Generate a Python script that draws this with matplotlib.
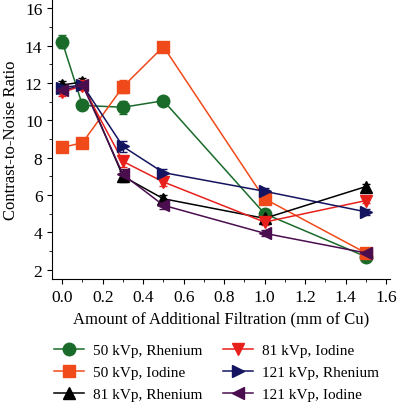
import numpy as np
import matplotlib.pyplot as plt
from matplotlib.lines import Line2D

plt.rcParams['font.family'] = ['Liberation Serif', 'DejaVu Serif']

filtration = [0.0, 0.1, 0.3, 0.5, 1.0, 1.5]

re50 = [14.2, 10.8, 10.7, 11.05, 5.0, 2.7]
io50 = [8.55, 8.8, 11.8, 13.95, 5.8, 2.9]
re81 = [11.9, 12.05, 7.0, 5.8, 4.75, 6.45]
io81 = [11.5, 11.85, 7.8, 6.7, 4.55, 5.7]
re121 = [11.75, 11.9, 8.6, 7.2, 6.2, 5.1]
io121 = [11.6, 11.9, 7.1, 5.45, 3.95, 2.9]

err50re = [0.35, 0.15, 0.35, 0.15, 0.15, 0.15]
err50io = [0.25, 0.15, 0.35, 0.15, 0.2, 0.15]
err_other = [0.2, 0.2, 0.3, 0.2, 0.15, 0.15]

labels = ['50 kVp, Rhenium', '50 kVp, Iodine', '81 kVp, Rhenium',
          '81 kVp, Iodine', '121 kVp, Rhenium', '121 kVp, Iodine']
colors = ['#1a6b2a', '#f04a1a', '#000000', '#e8201c', '#141460', '#4a0e4e']
markers = ['o', 's', '^', 'v', '>', '<']

series = [re50, io50, re81, io81, re121, io121]
errs = [err50re, err50io, err_other, err_other, err_other, err_other]

fig = plt.figure(figsize=(3.98, 4.10), dpi=100)
ax = fig.add_axes([0.131, 0.317, 0.849, 0.683])

handles = []
for y, e, c, m, lab in zip(series, errs, colors, markers, labels):
    ax.errorbar(filtration, y, yerr=e, color=c, marker=m, ms=9, lw=1.1,
                capsize=3, elinewidth=1)
    handles.append(Line2D([], [], color=c, marker=m, ms=9, lw=1.1, label=lab))

ax.set_xlim(-0.05, 1.62)
ax.set_ylim(1.5, 16.5)
ax.set_xticks(np.arange(0, 1.61, 0.2))
ax.set_xticks(np.arange(0, 1.61, 0.1), minor=True)
ax.set_yticks(np.arange(2, 17, 2))
ax.set_yticks(np.arange(2, 17, 1), minor=True)
ax.spines['top'].set_visible(False)
ax.spines['right'].set_visible(False)
ax.tick_params(direction='out', labelsize=12.5)
ax.set_xlabel('Amount of Additional Filtration (mm of Cu)', fontsize=12)
ax.set_ylabel('Contrast-to-Noise Ratio', fontsize=12)

fig.legend(handles=handles, loc='lower left', bbox_to_anchor=(0.1, -0.015),
           ncol=2, frameon=False, fontsize=11, handlelength=2,
           handletextpad=0.6, columnspacing=1.3, labelspacing=0.55)

fig.savefig('out.png', dpi=100)
